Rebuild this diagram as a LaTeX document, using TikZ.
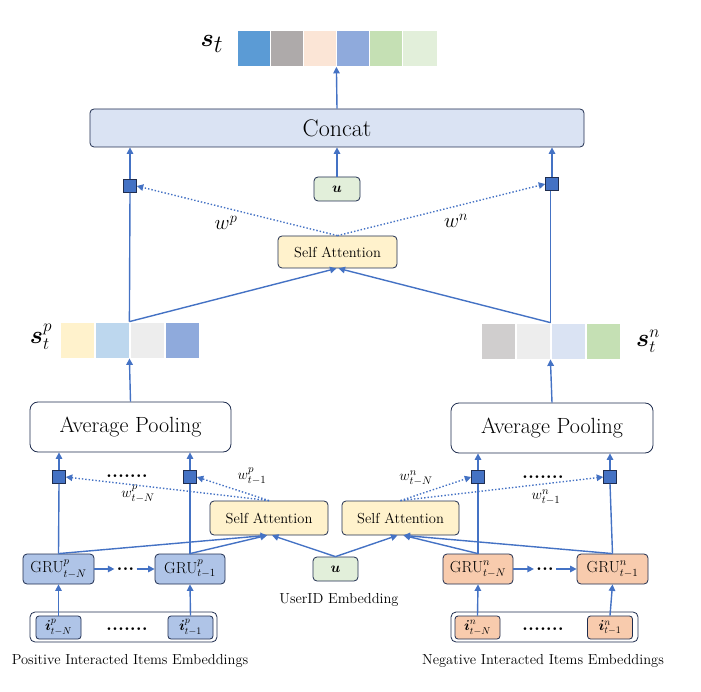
\documentclass[tikz,border=0pt]{standalone}
\usepackage{amsmath,bm}
\usetikzlibrary{arrows.meta}
\definecolor{ablue}{HTML}{4472C4}
\definecolor{navy}{HTML}{1F2D4F}
\definecolor{cconc}{HTML}{DAE3F3}
\definecolor{cu}{HTML}{E2EFDA}
\definecolor{csa}{HTML}{FFF2CC}
\definecolor{cgrup}{HTML}{AFC4E7}
\definecolor{cgrun}{HTML}{F8CBAD}
\definecolor{v1}{HTML}{5B9BD5}
\definecolor{v2}{HTML}{AEAAAA}
\definecolor{v3}{HTML}{FBE5D6}
\definecolor{v4}{HTML}{8FAADC}
\definecolor{v5}{HTML}{C5E0B4}
\definecolor{v6}{HTML}{E2EFDA}
\definecolor{p2}{HTML}{BDD7EE}
\definecolor{p3}{HTML}{EDEDED}
\definecolor{n1}{HTML}{D0CECE}
\tikzset{
  box/.style={draw=navy, rounded corners=4pt, line width=0.8pt, inner sep=0pt, align=center},
  cell/.style={draw=white, line width=0.8pt, minimum width=34pt, minimum height=36pt, inner sep=0pt},
  sq/.style={draw=navy, fill=ablue, line width=0.6pt, minimum size=13pt, inner sep=0pt},
  arr/.style={draw=ablue, line width=1.4pt, -{Triangle[length=6.5pt,width=6.5pt]}},
  ln/.style={draw=ablue, line width=1.4pt},
  dotarr/.style={draw=ablue, line width=1.4pt, dotted, -{Triangle[length=6.5pt,width=6.5pt]}},
  lbl/.style={inner sep=0pt},
  dts/.style={inner sep=0pt, text height=2.6pt, text depth=0pt, font=\bfseries\fontsize{19}{19}\selectfont},
  satext/.style={font=\fontsize{14.5}{14.5}\selectfont},
  grutext/.style={font=\fontsize{16}{16}\selectfont},
  itext/.style={font=\fontsize{14}{14}\selectfont},
  captext/.style={font=\fontsize{14.5}{14.5}\selectfont}
}
\begin{document}
\begin{tikzpicture}[x=1pt,y=-1pt]
\useasboundingbox (0,0) rectangle (701,692);
% ---------- top vector s_t
\node[lbl] (stlab) at (212,44) {\fontsize{38}{38}\selectfont$\boldsymbol{s}_t$};
\node[cell, fill=v1, minimum width=33pt] (st1) at (253.5,48.5) {};
\node[cell, fill=v2, minimum width=33pt] (st2) at (286.5,48.5) {};
\node[cell, fill=v3, minimum width=33pt] (st3) at (319.5,48.5) {};
\node[cell, fill=v4, minimum width=33pt] (st4) at (352.5,48.5) {};
\node[cell, fill=v5, minimum width=33pt] (st5) at (385.5,48.5) {};
\node[cell, fill=v6, minimum width=35pt] (st6) at (419.5,48.5) {};
% ---------- concat
\node[box, fill=cconc, minimum width=494pt, minimum height=38pt, font=\fontsize{24}{24}\selectfont] (conc) at (337,128) {Concat};
\node[box, fill=cu, minimum width=46pt, minimum height=24pt, font=\fontsize{14}{14}\selectfont] (utop) at (337,189) {$\boldsymbol{u}$};
\node[sq] (sqL) at (130,186) {};
\node[sq] (sqR) at (552,184) {};
\node[box, fill=csa, minimum width=119pt, minimum height=32pt, satext] (satop) at (337.5,252) {Self Attention};
% ---------- s_t^p and s_t^n vectors
\node[lbl] (stplab) at (41,337) {\fontsize{27}{27}\selectfont$\boldsymbol{s}_t^p$};
\node[cell, fill=csa] (p1) at (77,340) {};
\node[cell, fill=p2] (p2) at (112,340) {};
\node[cell, fill=p3] (p3) at (147,340) {};
\node[cell, fill=v4] (p4) at (182,340) {};
\node[cell, fill=n1] (n1) at (498,341) {};
\node[cell, fill=p3] (n2) at (533,341) {};
\node[cell, fill=cconc] (n3) at (568,341) {};
\node[cell, fill=v5] (n4) at (603,341) {};
\node[lbl] (stnlab) at (648,341) {\fontsize{27}{27}\selectfont$\boldsymbol{s}_t^n$};
% ---------- average pooling
\node[box, fill=white, minimum width=201pt, minimum height=50pt, rounded corners=8pt, font=\fontsize{22}{22}\selectfont] (avgL) at (130.5,427) {Average Pooling};
\node[box, fill=white, minimum width=202pt, minimum height=50pt, rounded corners=8pt, font=\fontsize{22}{22}\selectfont] (avgR) at (552,428) {Average Pooling};
% ---------- small squares
\node[sq] (q1) at (59,477) {};
\node[sq] (q2) at (190,477) {};
\node[sq] (q3) at (478,477) {};
\node[sq] (q4) at (610,477) {};
\node[dts] (dq1) at (127,476) {.......};
\node[dts] (dq2) at (543,477) {.......};
% ---------- lower self attention
\node[box, fill=csa, minimum width=118pt, minimum height=34pt, satext] (saL) at (269,518) {Self Attention};
\node[box, fill=csa, minimum width=117pt, minimum height=34pt, satext] (saR) at (400.5,518) {Self Attention};
% ---------- GRUs
\node[box, fill=cgrup, minimum width=71pt, minimum height=30pt, grutext] (gL1) at (58.5,569) {GRU$_{t-N}^{p}$};
\node[box, fill=cgrup, minimum width=70pt, minimum height=30pt, grutext] (gL2) at (190,569) {GRU$_{t-1}^{p}$};
\node[box, fill=cgrun, minimum width=70pt, minimum height=30pt, grutext] (gR1) at (478,569) {GRU$_{t-N}^{n}$};
\node[box, fill=cgrun, minimum width=71pt, minimum height=30pt, grutext] (gR2) at (612.5,569) {GRU$_{t-1}^{n}$};
\node[dts] (dgL) at (125.5,569) {...};
\node[dts] (dgR) at (545,569) {...};
\node[box, fill=cu, minimum width=45pt, minimum height=24pt, font=\fontsize{14}{14}\selectfont] (ulow) at (335.5,569) {$\boldsymbol{u}$};
\node[lbl, captext] (ulab) at (339,600) {UserID Embedding};
% ---------- inputs
\node[box, fill=white, minimum width=187pt, minimum height=30pt, rounded corners=5pt] (inL) at (123.5,627) {};
\node[box, fill=cgrup, minimum width=45pt, minimum height=23pt, rounded corners=3pt, itext] (iL1) at (58.5,627.5) {$\boldsymbol{i}_{t-N}^{p}$};
\node[box, fill=cgrup, minimum width=45pt, minimum height=23pt, rounded corners=3pt, itext] (iL2) at (190.5,627.5) {$\boldsymbol{i}_{t-1}^{p}$};
\node[dts] (diL) at (127,629) {.......};
\node[box, fill=white, minimum width=187pt, minimum height=30pt, rounded corners=5pt] (inR) at (544.5,627) {};
\node[box, fill=cgrun, minimum width=45pt, minimum height=23pt, rounded corners=3pt, itext] (iR1) at (477.5,627.5) {$\boldsymbol{i}_{t-N}^{n}$};
\node[box, fill=cgrun, minimum width=45pt, minimum height=23pt, rounded corners=3pt, itext] (iR2) at (610,627.5) {$\boldsymbol{i}_{t-1}^{n}$};
\node[dts] (diR) at (543,629) {.......};
\node[lbl, captext] (posl) at (130,661) {Positive Interacted Items Embeddings};
\node[lbl, captext] (negl) at (543,661) {Negative Interacted Items Embeddings};
% ---------- weight labels
\node[lbl] (wp) at (226,223) {\fontsize{21}{21}\selectfont$w^{p}$};
\node[lbl] (wn) at (456,221) {\fontsize{21}{21}\selectfont$w^{n}$};
\node[lbl] (w1) at (138,494) {\fontsize{15.5}{15.5}\selectfont$w_{t-N}^{p}$};
\node[lbl] (w2) at (252,476) {\fontsize{15.5}{15.5}\selectfont$w_{t-1}^{p}$};
\node[lbl] (w3) at (416,478) {\fontsize{15.5}{15.5}\selectfont$w_{t-N}^{n}$};
\node[lbl] (w4) at (546,497) {\fontsize{15.5}{15.5}\selectfont$w_{t-1}^{n}$};
% ---------- connectors top
\draw[arr] (conc.north) -- (st3.south east);
\draw[arr] (utop.north) -- (utop.north |- conc.south);
\draw[ln] (p2.north east) -- (sqL.south);
\draw[arr] (sqL.north) -- (sqL.north |- conc.south);
\draw[ln] (n2.north east) -- (n2.north east |- sqR.south);
\draw[arr] (sqR.north) -- (sqR.north |- conc.south);
\draw[dotarr] (satop.north) -- (sqL.east);
\draw[dotarr] (satop.north) -- (sqR.west);
\draw[arr] (p2.north east) -- ([xshift=-1pt]satop.south);
\draw[arr] (n2.north east) -- ([xshift=1pt]satop.south);
% ---------- pooling
\draw[arr] (avgL.north) -- (p2.south east);
\draw[arr] (avgR.north) -- (n2.south east);
\draw[arr] (q1.north) -- (q1.north |- avgL.south);
\draw[arr] (q2.north) -- (q2.north |- avgL.south);
\draw[arr] (q3.north) -- (q3.north |- avgR.south);
\draw[arr] (q4.north) -- (q4.north |- avgR.south);
\draw[ln] (gL1.north) -- (q1.south);
\draw[ln] (gL2.north) -- (q2.south);
\draw[ln] (gR1.north) -- (q3.south);
\draw[ln] (gR2.north) -- (q4.south);
\draw[dotarr] (saL.north) -- (q1.east);
\draw[dotarr] (saL.north) -- (q2.east);
\draw[dotarr] (saR.north) -- (q3.west);
\draw[dotarr] (saR.north) -- (q4.west);
% ---------- into lower self attention
\draw[arr] (gL1.north) -- ([xshift=-2pt]saL.south);
\draw[arr] (gL2.north) -- ([xshift=-2pt]saL.south);
\draw[arr] (ulow.north) -- ([xshift=3pt]saL.south);
\draw[arr] (ulow.north) -- ([xshift=-3pt]saR.south);
\draw[arr] (gR1.north) -- ([xshift=3pt]saR.south);
\draw[arr] (gR2.north) -- ([xshift=3pt]saR.south);
% ---------- GRU chain
\draw[arr] (gL1.east) -- ([xshift=-2pt]dgL.west);
\draw[arr] ([xshift=2pt]dgL.east) -- (gL2.west);
\draw[arr] (gR1.east) -- ([xshift=-2pt]dgR.west);
\draw[arr] ([xshift=2pt]dgR.east) -- (gR2.west);
% ---------- inputs
\draw[arr] (iL1.north) -- (gL1.south);
\draw[arr] (iL2.north) -- (gL2.south);
\draw[arr] (iR1.north) -- (gR1.south);
\draw[arr] (iR2.north) -- (gR2.south);
\end{tikzpicture}
\end{document}
